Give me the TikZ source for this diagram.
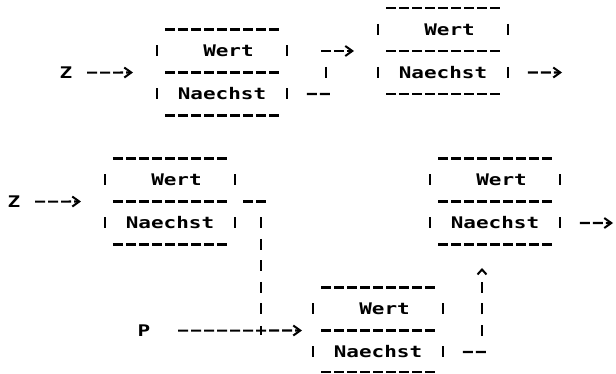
\documentclass[tikz,border=0pt]{standalone}
\usepackage{fontspec}
\usetikzlibrary{arrows.meta}
\newfontfamily\printfont[FakeStretch=1.31]{DejaVu Sans Mono}

\tikzset{
  asciirow/.style={line width=2.1pt, dash pattern=on 10pt off 3pt},
  asciibar/.style={line width=2.5pt, dash pattern=on 11pt off 32pt},
  asciiriser/.style={line width=2.5pt, dash pattern=on 11pt off 10.5pt},
  field/.style={inner sep=0pt, anchor=base, font=\printfont\bfseries\fontsize{16}{20}\selectfont},
  pointer/.style={-{Straight Barb[length=7pt,width=10pt,sep=3pt,line width=2pt]}},
  caret/.style={-{Straight Barb[length=5pt,width=9pt,sep=6pt,line width=2pt]}}
}

\begin{document}
\begin{tikzpicture}[x=13pt, y=-21.5pt]

\useasboundingbox (-5.0769,-0.3721) rectangle (42.3077,17.0233);

%%% Upper List

% Z

\node [field] (z1) at ([yshift=-6pt]0,3) {Z};
\coordinate (in1) at ([xshift=-1.5pt]5.5,3);
\draw [asciirow,pointer] ([xshift=14.5pt]z1.east) -- (in1);

% First Box

\draw [asciirow] ([xshift=1.5pt]7.5,1) -- ([xshift=-1.5pt]16.5,1);
\draw [asciirow] ([xshift=1.5pt]7.5,3) -- ([xshift=-1.5pt]16.5,3);
\draw [asciirow] ([xshift=1.5pt]7.5,5) -- ([xshift=-1.5pt]16.5,5);
\draw [asciibar] ([yshift=5.5pt]7,2) -- ([yshift=-5.5pt]7,4);
\draw [asciibar] ([yshift=5.5pt]17,2) -- ([yshift=-5.5pt]17,4);
\node [field] (wert1) at ([yshift=-6pt]12.5,2) {Wert};
\node [field] (next1) at ([yshift=-6pt]12,4) {Naechst};

% First Link

\coordinate (in2) at ([xshift=-1.5pt]22.5,2);
\draw [asciirow] ([xshift=40.5pt]next1.east) -- ([xshift=-1.5pt]20.5,4);
\draw [asciibar] ([yshift=5.5pt]20,3) -- ([yshift=-5.5pt]20,3);
\draw [asciirow,pointer] ([xshift=1.5pt]19.5,2) -- (in2);

% Second Box

\draw [asciirow] ([xshift=1.5pt]24.5,0) -- ([xshift=-1.5pt]33.5,0);
\draw [asciirow] ([xshift=1.5pt]24.5,2) -- ([xshift=-1.5pt]33.5,2);
\draw [asciirow] ([xshift=1.5pt]24.5,4) -- ([xshift=-1.5pt]33.5,4);
\draw [asciibar] ([yshift=5.5pt]24,1) -- ([yshift=-5.5pt]24,3);
\draw [asciibar] ([yshift=5.5pt]34,1) -- ([yshift=-5.5pt]34,3);
\node [field] (wert2) at ([yshift=-6pt]29.5,1) {Wert};
\node [field] (next2) at ([yshift=-6pt]29,3) {Naechst};

\coordinate (out2) at ([xshift=-1.5pt]38.5,3);
\draw [asciirow,pointer] ([xshift=40.5pt]next2.east) -- (out2);


%%% Lower List

% Z

\node [field] (z2) at ([yshift=-6pt]-4,9) {Z};
\coordinate (in3) at ([xshift=-1.5pt]1.5,9);
\draw [asciirow,pointer] ([xshift=14.5pt]z2.east) -- (in3);

% Left Box

\draw [asciirow] ([xshift=1.5pt]3.5,7) -- ([xshift=-1.5pt]12.5,7);
\draw [asciirow] ([xshift=1.5pt]3.5,9) -- ([xshift=-1.5pt]12.5,9);
\draw [asciirow] ([xshift=1.5pt]3.5,11) -- ([xshift=-1.5pt]12.5,11);
\draw [asciibar] ([yshift=5.5pt]3,8) -- ([yshift=-5.5pt]3,10);
\draw [asciibar] ([yshift=5.5pt]13,8) -- ([yshift=-5.5pt]13,10);
\node [field] (wert3) at ([yshift=-6pt]8.5,8) {Wert};
\node [field] (next3) at ([yshift=-6pt]8,10) {Naechst};

% Down Link

\draw [asciirow] ([xshift=1.5pt]13.5,9) -- ([xshift=-1.5pt]15.5,9);
\draw [asciiriser] ([yshift=5.5pt]15,10) -- ([yshift=-5.5pt]15,14);
\draw [line width=2.3pt] ([yshift=4.5pt]15,15) -- ([yshift=-4.5pt]15,15);

% P

\node [field] (p) at ([yshift=-6pt]6,15) {P};
\coordinate (in5) at ([xshift=-1.5pt]18.5,15);
\draw [asciirow,pointer] ([xshift=27.5pt]p.east) -- (in5);

% Right Box

\draw [asciirow] ([xshift=1.5pt]28.5,7) -- ([xshift=-1.5pt]37.5,7);
\draw [asciirow] ([xshift=1.5pt]28.5,9) -- ([xshift=-1.5pt]37.5,9);
\draw [asciirow] ([xshift=1.5pt]28.5,11) -- ([xshift=-1.5pt]37.5,11);
\draw [asciibar] ([yshift=5.5pt]28,8) -- ([yshift=-5.5pt]28,10);
\draw [asciibar] ([yshift=5.5pt]38,8) -- ([yshift=-5.5pt]38,10);
\node [field] (wert4) at ([yshift=-6pt]33.5,8) {Wert};
\node [field] (next4) at ([yshift=-6pt]33,10) {Naechst};

\coordinate (out4) at ([xshift=-2.5pt]42.5,10);
\draw [asciirow,pointer] ([xshift=40.5pt]next4.east) -- (out4);

% Bottom Box

\draw [asciirow] ([xshift=1.5pt]19.5,13) -- ([xshift=-1.5pt]28.5,13);
\draw [asciirow] ([xshift=1.5pt]19.5,15) -- ([xshift=-1.5pt]28.5,15);
\draw [asciirow] ([xshift=1.5pt]19.5,16.93) -- ([xshift=-1.5pt]28.5,16.93);
\draw [asciibar] ([yshift=5.5pt]19,14) -- ([yshift=-5.5pt]19,16);
\draw [asciibar] ([yshift=5.5pt]29,14) -- ([yshift=-5.5pt]29,16);
\node [field] (wert5) at ([yshift=-6pt]24.5,14) {Wert};
\node [field] (next5) at ([yshift=-6pt]24,16) {Naechst};

% Up Link

\coordinate (in4) at ([yshift=4pt]32,12);
\draw [asciirow] ([xshift=40.5pt]next5.east) -- ([xshift=-1.5pt]32.5,16);
\draw [asciiriser,caret] ([yshift=-5.5pt]32,15) -- (in4);

\end{tikzpicture}
\end{document}
